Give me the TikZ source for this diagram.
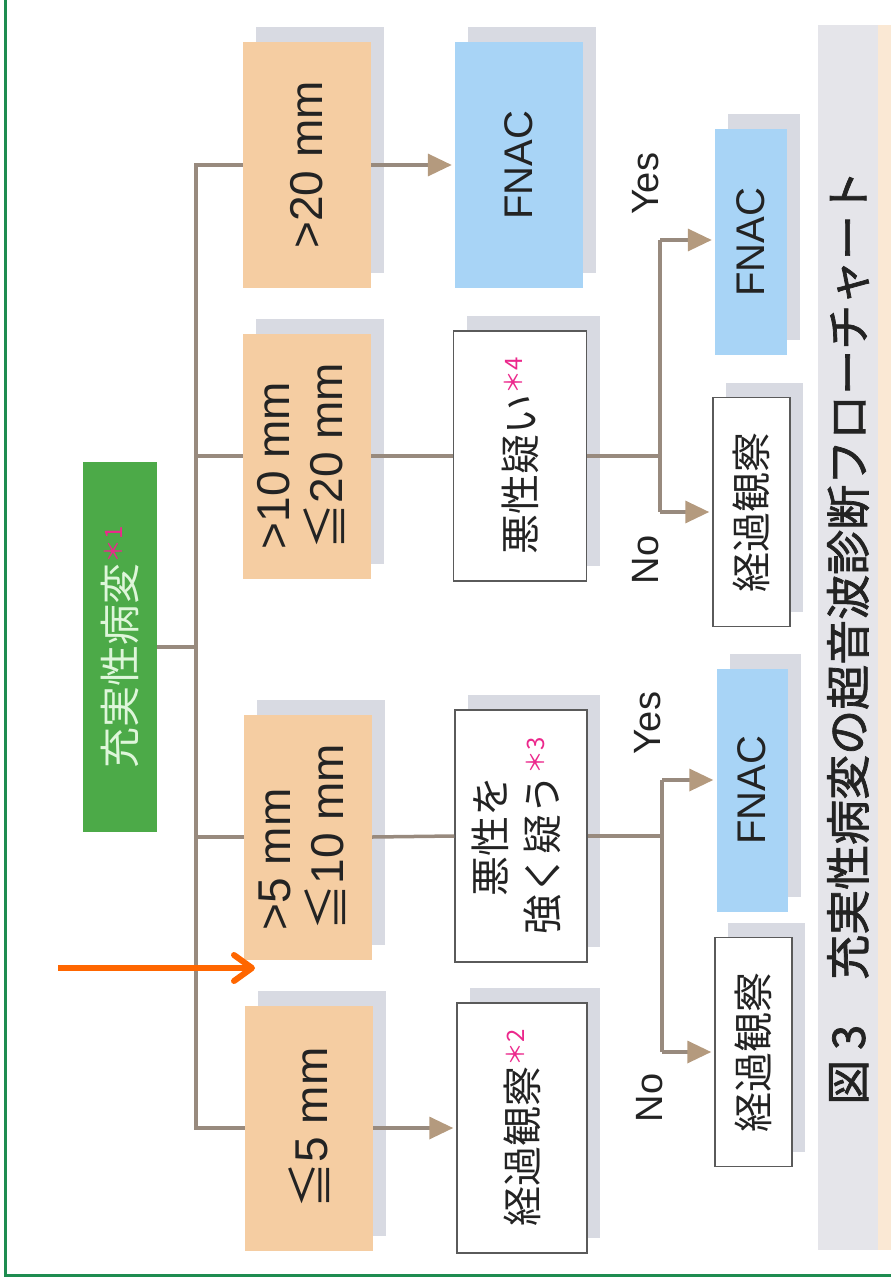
\documentclass[tikz,border=0pt]{standalone}
\usepackage{fontspec}
\setmainfont{Liberation Sans}
\newfontfamily\cjk{Noto Sans CJK JP}
\newfontfamily\cjkcap{Noto Sans CJK JP}[FakeBold=1.6]
\usetikzlibrary{arrows.meta,shadows}
\definecolor{peach}{RGB}{245,205,162}
\definecolor{skyblue}{RGB}{168,212,246}
\definecolor{rootgreen}{RGB}{76,170,72}
\definecolor{roottext}{RGB}{222,246,218}
\definecolor{shadowgray}{RGB}{216,218,226}
\definecolor{linebrown}{RGB}{152,138,126}
\definecolor{tipbrown}{RGB}{180,154,126}
\definecolor{notepink}{RGB}{236,40,140}
\definecolor{captiongray}{RGB}{229,229,234}
\definecolor{beige}{RGB}{250,232,212}
\definecolor{framegreen}{RGB}{30,140,80}
\definecolor{annot}{RGB}{255,102,0}
\definecolor{inkgray}{RGB}{35,35,35}
\definecolor{boxedge}{RGB}{90,90,90}
\newcommand{\nt}[1]{\raisebox{13pt}{\fontsize{24}{24}\selectfont\color{notepink}{\cjk ＊}#1}}
\tikzset{
  shadowed/.style={drop shadow={shadow xshift=13pt, shadow yshift=15pt, fill=shadowgray, opacity=1}},
  obox/.style={shadowed, fill=peach, minimum width=128pt, minimum height=245pt, inner sep=0pt, text=inkgray, font=\fontsize{46}{46}\selectfont},
  bbox/.style={shadowed, fill=skyblue, inner sep=0pt, text=inkgray, font=\fontsize{40}{40}\selectfont},
  wbox/.style={shadowed, fill=white, draw=boxedge, line width=1.5pt, inner sep=0pt, text=inkgray, font=\fontsize{40}{52}\selectfont\cjk},
  rootbox/.style={fill=rootgreen, minimum width=74pt, minimum height=370pt, inner sep=0pt, text=roottext, font=\fontsize{41}{41}\selectfont\cjk},
  conn/.style={draw=linebrown, line width=3.5pt},
  arr/.style={conn, -{Triangle[length=24pt, width=22pt, color=tipbrown]}, shorten >=3pt},
  lab/.style={text=inkgray, font=\fontsize{38}{38}\selectfont, rotate=90, inner sep=0pt},
}
\begin{document}
\begin{tikzpicture}[x=1pt,y=-1pt]
\useasboundingbox (0,0) rectangle (891,1281);
% frame
\draw[framegreen, line width=3pt] (5,0) -- (5,1275) -- (891,1275);
% caption
\fill[beige] (878,25) rectangle (891,1250);
\node[fill=captiongray, minimum width=60pt, minimum height=1225pt, inner sep=0pt, text=inkgray, font=\fontsize{45}{45}\selectfont\cjkcap] (cap) at (848,637.5) {\rotatebox{90}{図 3　充実性病変の超音波診断フローチャート}};
% root
\node[rootbox] (root) at (120,647) {\rotatebox{90}{充実性病変\nt{1}}};
% size boxes
\node[obox] (o1) at (307,165) {\rotatebox{90}{>20 mm}};
\node[obox] (o2) at (307,456) {\rotatebox{90}{\begin{tabular}{@{}l@{}}>10 mm\\{\cjk ≦}20 mm\end{tabular}}};
\node[obox] (o3) at (308,837) {\rotatebox{90}{\begin{tabular}{@{}l@{}}>5 mm\\{\cjk ≦}10 mm\end{tabular}}};
\node[obox] (o4) at (309,1128) {\rotatebox{90}{{\cjk ≦}5 mm}};
% second column
\node[bbox, minimum width=128pt, minimum height=245pt] (f1) at (519,165) {\rotatebox{90}{FNAC}};
\node[wbox, minimum width=133pt, minimum height=250pt] (w2) at (520,456) {\rotatebox{90}{悪性疑い\nt{4}}};
\node[wbox, minimum width=132pt, minimum height=252pt] (w3) at (521,836) {\rotatebox{90}{\begin{tabular}{@{}c@{}}悪性を\\強く疑う\nt{3}\end{tabular}}};
\node[wbox, minimum width=130pt, minimum height=250pt] (w4) at (522,1128) {\rotatebox{90}{経過観察\nt{2}}};
% third column
\node[bbox, minimum width=72pt, minimum height=225pt] (f2) at (751,242) {\rotatebox{90}{FNAC}};
\node[wbox, minimum width=77pt, minimum height=229pt] (k2) at (751.5,512) {\rotatebox{90}{経過観察}};
\node[bbox, minimum width=71pt, minimum height=243pt] (f3) at (752,790) {\rotatebox{90}{FNAC}};
\node[wbox, minimum width=77pt, minimum height=229pt] (k3) at (753.5,1052) {\rotatebox{90}{経過観察}};
% trunk
\coordinate (tA) at (196,165);
\draw[conn] (o1.west) -- (o1.west -| tA) -- (o4.west -| tA) -- (o4.west);
\draw[conn] (o2.west -| tA) -- (o2.west);
\draw[conn] (o3.west -| tA) -- (o3.west);
\draw[conn] (root.east) -- (root.east -| tA);
% to second column
\draw[arr] (o1.east) -- (f1.west);
\draw[conn] (o2.east) -- (w2.west);
\draw[conn] (o3.east) -- (w3.west);
\draw[arr] (o4.east) -- (w4.west);
% upper split
\coordinate (s2) at (660,456);
\coordinate (y2) at (660,240);
\draw[conn] (w2.east) -- (s2);
\draw[conn] (y2) -- (k2.west -| s2);
\draw[arr] (y2) -- (y2 -| f2.west);
\draw[arr] (k2.west -| s2) -- (k2.west);
% lower split
\coordinate (s3) at (662,836);
\coordinate (y3) at (662,780);
\draw[conn] (w3.east) -- (s3);
\draw[conn] (y3) -- (k3.west -| s3);
\draw[arr] (y3) -- (y3 -| f3.west);
\draw[arr] (k3.west -| s3) -- (k3.west);
% labels
\node[lab] (yes1) at (646,184) {Yes};
\node[lab] (no1) at (646,560) {No};
\node[lab] (yes2) at (648,723) {Yes};
\node[lab] (no2) at (650,1098) {No};
% annotation arrow
\coordinate (annS) at (58,968);
\coordinate (annE) at (255,968);
\draw[annot, line width=6pt, -{Straight Barb[length=18pt, width=26pt, round]}] (annS) -- (annE);
\end{tikzpicture}
\end{document}
